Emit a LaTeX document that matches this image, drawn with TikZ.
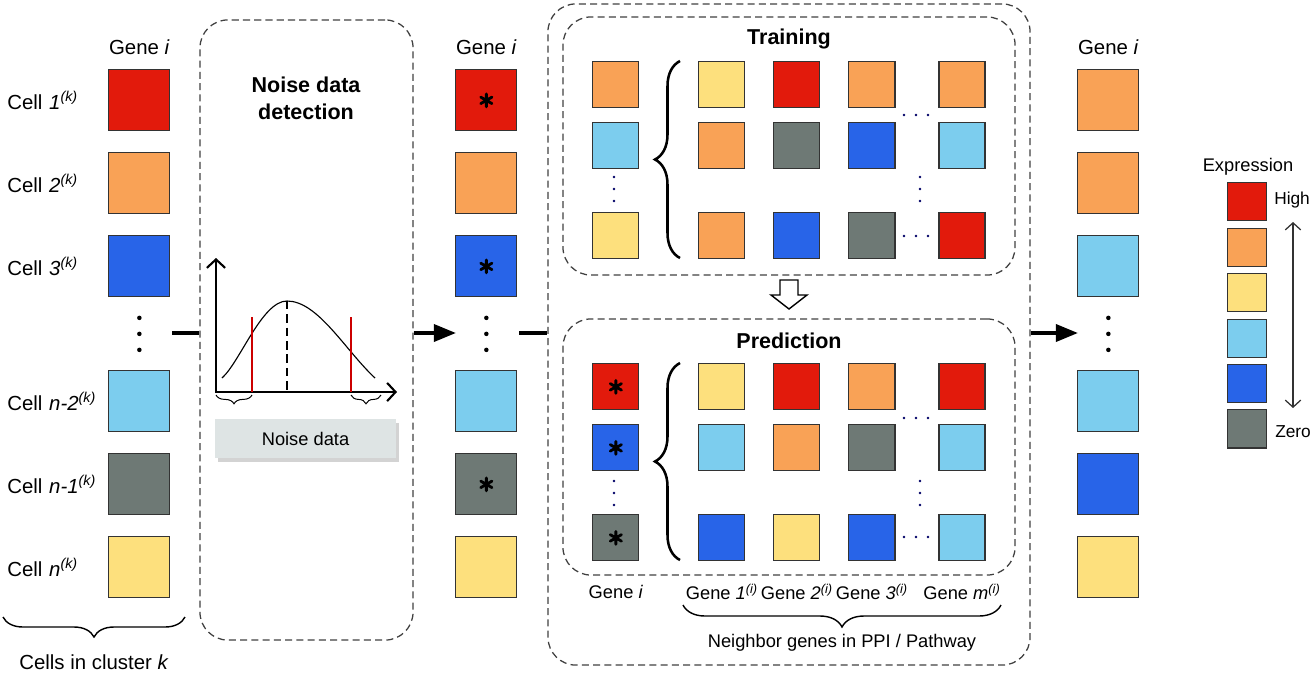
\documentclass[tikz,border=0pt]{standalone}
\usepackage{fontspec}
\setmainfont{Liberation Sans}
\usetikzlibrary{matrix, arrows.meta, positioning, decorations.pathreplacing, shadows}

\definecolor{cRed}{RGB}{226,26,12}
\definecolor{cOra}{RGB}{249,162,86}
\definecolor{cYel}{RGB}{253,224,125}
\definecolor{cLbl}{RGB}{124,205,238}
\definecolor{cBlu}{RGB}{40,100,232}
\definecolor{cGry}{RGB}{110,121,117}
\definecolor{cNoise}{RGB}{222,228,228}

\begin{document}
\begin{tikzpicture}[x=0.025cm, y=-0.025cm,
  txt/.style={font=\fontsize{14.5}{17}\selectfont, inner sep=0},
  stxt/.style={font=\fontsize{13}{15}\selectfont, inner sep=0},
  ttl/.style={font=\fontsize{15.3}{19}\selectfont\bfseries, inner sep=0, align=center},
  sq/.style={draw=black!80, line width=0.8pt, minimum size=1.525cm, inner sep=0, outer sep=0, anchor=center},
  gsq/.style={sq, minimum size=1.15cm},
  lsq/.style={sq, minimum width=0.975cm, minimum height=0.95cm},
  gap/.style={draw=none, minimum height=0.775cm},
  dbox/.style={draw=black!75, line width=0.9pt, dash pattern=on 5pt off 3pt, rounded corners=0.7cm, inner sep=0},
  conn/.style={line width=2.2pt},
  brc/.style={decorate, decoration={brace, amplitude=#1}, line width=1pt},
  sdot/.style={fill=black!60!blue},
  astk/.pic={\draw[line width=2pt, line cap=round] (90:6.5) -- (270:6.5) (30:6.5) -- (210:6.5) (150:6.5) -- (330:6.5);}]
\useasboundingbox (0,0) rectangle (1312,672);

% input: cells of cluster k
\matrix (cl) [matrix of nodes, row sep=0.522cm, column sep=0, inner sep=0, anchor=north west,
  column 1/.style={nodes={txt, text width=2.525cm, anchor=center}},
  column 2/.style={nodes={sq}}] at (7,69) {
Cell \textit{1}\textsuperscript{\textit{(k)}} & |[fill=cRed]| \\
Cell \textit{2}\textsuperscript{\textit{(k)}} & |[fill=cOra]| \\
Cell \textit{3}\textsuperscript{\textit{(k)}} & |[fill=cBlu]| \\
 & |[gap]| \\
Cell \textit{n-2}\textsuperscript{\textit{(k)}} & |[fill=cLbl]| \\
Cell \textit{n-1}\textsuperscript{\textit{(k)}} & |[fill=cGry]| \\
Cell \textit{n}\textsuperscript{\textit{(k)}} & |[fill=cYel]| \\
};
\node[txt, above=0.36cm of cl-1-2] (gl) {Gene \textit{i}};
\fill (cl-4-2) +(0,-16) circle (1.6pt) +(0,0) circle (1.6pt) +(0,16) circle (1.6pt);
\draw[brc=0.5cm] (185,617) -- (3,617);
\node[txt] (clus) at (94,662) {Cells in cluster \textit{k}};

% noise detection
\node[dbox, minimum width=5.325cm, minimum height=15.5cm] (noise) at (306.5,330) {};
\node[ttl] (nt) at (306,98) {Noise data\\detection};
\draw[line width=1.5pt, {Straight Barb[length=6pt, width=13pt]}-{Straight Barb[length=6pt, width=13pt]}]
  (216,258) -- (216,392) -- (397,392);
\draw[line width=0.8pt] (222,378) .. controls (240,362) and (262,301) .. (287,301)
  .. controls (318,301) and (345,350) .. (375,378);
\draw[line width=1.5pt, dash pattern=on 6pt off 3.5pt] (287,301) -- (287,392);
\draw[line width=1.4pt, red!80!black] (252,317) -- (252,392) (351,317) -- (351,392);
\draw[brc=0.22cm, line width=0.7pt] (252,395) -- (216,395);
\draw[brc=0.22cm, line width=0.7pt] (381,395) -- (351,395);
\node[fill=cNoise, minimum width=4.525cm, minimum height=0.975cm, inner sep=0,
  drop shadow={shadow xshift=2pt, shadow yshift=-3pt, opacity=0.35}, stxt] (nd) at (305.5,438.5) {Noise data};

% gene i after detection
\matrix (cm) [matrix of nodes, row sep=0.522cm, inner sep=0, anchor=north west, nodes={sq}] at (455,69) {
|[fill=cRed]| \\ |[fill=cOra]| \\ |[fill=cBlu]| \\ |[gap]| \\
|[fill=cLbl]| \\ |[fill=cGry]| \\ |[fill=cYel]| \\
};
\node[txt, above=0.36cm of cm-1-1] (gm) {Gene \textit{i}};
\fill (cm-4-1) +(0,-16) circle (1.6pt) +(0,0) circle (1.6pt) +(0,16) circle (1.6pt);
\pic at (cm-1-1) {astk};
\pic at (cm-3-1) {astk};
\pic at (cm-6-1) {astk};

% imputation model
\node[dbox, minimum width=12.05cm, minimum height=16.525cm] (model) at (789,334.5) {};
\node[dbox, minimum width=11.3cm, minimum height=6.45cm] (train) at (789,146) {};
\node[dbox, minimum width=11.3cm, minimum height=6.4cm] (pred) at (789,447) {};
\node[ttl] (tt) at (789,39) {Training};
\node[ttl] (pt) at (789,341) {Prediction};

\matrix (tm) [matrix of nodes, row sep=0.347cm, column sep=0.697cm, inner sep=0, anchor=north west, nodes={gsq}] at (592,61) {
|[fill=cOra]| &[0.775cm] |[fill=cYel]| & |[fill=cRed]| & |[fill=cOra]| &[0.375cm] |[fill=cOra]| \\
|[fill=cLbl]| & |[fill=cOra]| & |[fill=cGry]| & |[fill=cBlu]| & |[fill=cLbl]| \\[0.725cm]
|[fill=cYel]| & |[fill=cOra]| & |[fill=cBlu]| & |[fill=cGry]| & |[fill=cRed]| \\
};
\draw[brc=0.625cm, line width=1.8pt] (680,258) -- (680,61);
\fill[sdot] (614,177) circle (1pt) (614,189) circle (1pt) (614,201) circle (1pt)
  (920,177) circle (1pt) (920,189) circle (1pt) (920,201) circle (1pt)
  (904,115) circle (1pt) (916,115) circle (1pt) (928,115) circle (1pt)
  (904,236) circle (1pt) (916,236) circle (1pt) (928,236) circle (1pt);

\draw[line width=1pt, fill=white] (780,280) -- (798,280) -- (798,295) -- (807,295) -- (789,309)
  -- (771,295) -- (780,295) -- cycle;

\matrix (pm) [matrix of nodes, row sep=0.347cm, column sep=0.697cm, inner sep=0, anchor=north west, nodes={gsq}] at (592,363) {
|[fill=cRed]| &[0.775cm] |[fill=cYel]| & |[fill=cRed]| & |[fill=cOra]| &[0.375cm] |[fill=cRed]| \\
|[fill=cBlu]| & |[fill=cLbl]| & |[fill=cOra]| & |[fill=cGry]| & |[fill=cLbl]| \\[0.725cm]
|[fill=cGry]| & |[fill=cBlu]| & |[fill=cYel]| & |[fill=cBlu]| & |[fill=cLbl]| \\
};
\draw[brc=0.625cm, line width=1.8pt] (680,560) -- (680,363);
\fill[sdot] (614,481) circle (1pt) (614,493) circle (1pt) (614,505) circle (1pt)
  (920,481) circle (1pt) (920,493) circle (1pt) (920,505) circle (1pt)
  (904,418) circle (1pt) (916,418) circle (1pt) (928,418) circle (1pt)
  (904,537) circle (1pt) (916,537) circle (1pt) (928,537) circle (1pt);
\pic at (pm-1-1) {astk};
\pic at (pm-2-1) {astk};
\pic at (pm-3-1) {astk};

\node[stxt] (gi) at (pm-1-1 |- 0,592) {Gene \textit{i}};
\node[stxt] (g1) at (pm-1-2 |- 0,592) {Gene \textit{1}\textsuperscript{\textit{(i)}}};
\node[stxt] (g2) at (pm-1-3 |- 0,592) {Gene \textit{2}\textsuperscript{\textit{(i)}}};
\node[stxt] (g3) at (pm-1-4 |- 0,592) {Gene \textit{3}\textsuperscript{\textit{(i)}}};
\node[stxt] (gmm) at (pm-1-5 |- 0,592) {Gene \textit{m}\textsuperscript{\textit{(i)}}};
\draw[brc=0.55cm] (1001,605) -- (683,605);
\node[stxt] (nb) at (842,643) {Neighbor genes in PPI / Pathway};

% imputed gene i
\matrix (cr) [matrix of nodes, row sep=0.522cm, inner sep=0, anchor=north west, nodes={sq}] at (1077,69) {
|[fill=cOra]| \\ |[fill=cOra]| \\ |[fill=cLbl]| \\ |[gap]| \\
|[fill=cLbl]| \\ |[fill=cBlu]| \\ |[fill=cYel]| \\
};
\node[txt, above=0.36cm of cr-1-1] (gr) {Gene \textit{i}};
\fill (cr-4-1) +(0,-16) circle (1.6pt) +(0,0) circle (1.6pt) +(0,16) circle (1.6pt);

% connectors
\coordinate (lout) at (172,333);
\coordinate (mout) at (519,333);
\draw[conn] (lout) -- (lout -| noise.west);
\draw[conn, -{Triangle[length=0.55cm, width=0.43cm]}] (noise.east |- lout) -- (lout -| cm-1-1.west);
\draw[conn] (mout) -- (mout -| model.west);
\draw[conn, -{Triangle[length=0.55cm, width=0.43cm]}] (model.east |- mout) -- (mout -| cr-1-1.west);

% legend
\node[stxt] (ex) at (1248,167) {Expression};
\matrix (lg) [matrix of nodes, row sep=0.157cm, inner sep=0, anchor=north west, nodes={lsq}] at (1227,182) {
|[fill=cRed]| \\ |[fill=cOra]| \\ |[fill=cYel]| \\ |[fill=cLbl]| \\ |[fill=cBlu]| \\ |[fill=cGry]| \\
};
\node[stxt, font=\fontsize{12.3}{14}\selectfont, anchor=west] (hi) at (1274,200) {High};
\node[stxt, font=\fontsize{12.3}{14}\selectfont, anchor=west] (zr) at (1275,432) {Zero};
\draw[line width=0.9pt, black!80, {Straight Barb[length=5pt, width=11pt]}-{Straight Barb[length=5pt, width=11pt]}]
  (1293,222) -- (1293,408);
\end{tikzpicture}
\end{document}
